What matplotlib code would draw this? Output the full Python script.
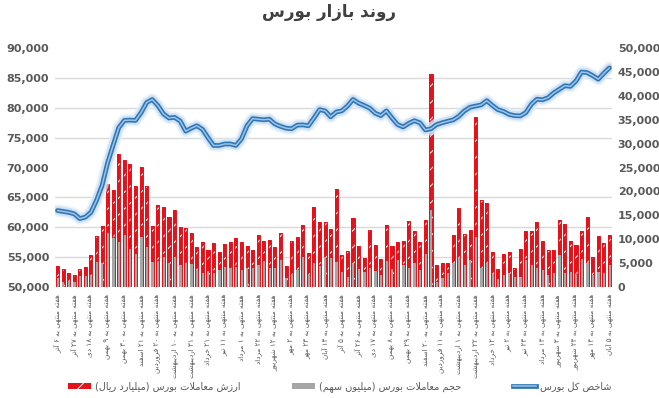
import re

import numpy as np
import matplotlib

matplotlib.use("agg")

import matplotlib.pyplot as plt
import matplotlib.patheffects as pe
from matplotlib.patches import Patch
from matplotlib.lines import Line2D

# weekly values, one per bar (right axis)
trade_value = [
    4390, 3760, 2930, 2510, 3760, 4180, 6690, 10660, 12750, 21600,
    20270, 27940, 26540, 25700, 21100, 25080, 21100, 12750, 17140, 16720,
    14630, 16090, 12540, 12330, 11290, 8360, 9405, 7730, 9200, 7315,
    8990, 9405, 10240, 9405, 8570, 7730, 10870, 9610, 9820, 8360,
    11290, 4390, 9610, 10450, 12960, 7100, 16720, 13650, 13650, 12120,
    20420, 6690, 7520, 14420, 8570, 6060, 11910, 8780, 5850, 12960,
    8570, 9405, 9610, 13790, 11700, 9405, 14000, 44600, 4600, 5020,
    5020, 10870, 16510, 11080, 11910, 35500, 18180, 17560, 7315, 3760,
    6900, 7315, 3970, 7940, 11700, 11700, 13590, 9610, 7730, 7730,
    14000, 13170, 9610, 8780, 11700, 14630, 6270, 10660, 9200, 10870,
]
trade_volume = [
    1900, 1000, 1300, 1000, 2200, 2300, 2300, 5300, 5000, 11300,
    10200, 9500, 10900, 8000, 6900, 10500, 8400, 5300, 5500, 6300,
    5000, 6300, 4500, 5000, 4800, 3550, 3000, 3400, 3000, 3550,
    4240, 4000, 4240, 3500, 3900, 3900, 4660, 5500, 4000, 3900,
    5640, 1880, 2720, 3500, 6330, 2720, 4950, 4390, 6330, 6000,
    5290, 3200, 2150, 4800, 3800, 3070, 4000, 3340, 2500, 5500,
    3800, 5640, 4600, 4000, 5000, 3500, 7000, 16090, 1100, 1950,
    2860, 5080, 6000, 4600, 5640, 10500, 4000, 5080, 2720, 1600,
    2510, 3000, 2150, 2150, 5640, 4600, 4000, 3550, 2500, 3000,
    6690, 3000, 3130, 2500, 5850, 5080, 2500, 3130, 3000, 4600,
]
# total index (left axis)
index_total = [
    62800, 62650, 62500, 62250, 61450, 61700, 62500, 64500, 67000, 70800,
    73800, 76700, 77900, 77950, 77900, 79200, 80900, 81400, 80400, 79000,
    78300, 78400, 77800, 76100, 76600, 77000, 76400, 75000, 73700, 73700,
    73950, 73950, 73700, 74800, 77000, 78200, 78100, 78000, 78100, 77300,
    76900, 76600, 76500, 77100, 77150, 77000, 78300, 79700, 79500, 78500,
    79300, 79500, 80300, 81400, 80800, 80400, 79950, 79100, 78700, 79500,
    78300, 77200, 76800, 77400, 77850, 77500, 76300, 76500, 77200, 77500,
    77750, 78000, 78600, 79500, 80100, 80300, 80500, 81200, 80400, 79700,
    79400, 78900, 78700, 78650, 79200, 80600, 81450, 81350, 81700, 82500,
    83100, 83700, 83600, 84500, 86000, 85900, 85400, 84800, 85800, 86700,
]
# every third week is labelled
week_days = ["۶ آذر", "۲۷ آذر", "۱۸ دی", "۹ بهمن", "۳۰ بهمن", "۲۱ اسفند",
             "۲۰ فروردین", "۱۰ اردیبهشت", "۳۱ اردیبهشت", "۲۱ خرداد", "۱۱ تیر",
             "۱ مرداد", "۲۲ مرداد", "۱۲ شهریور", "۲ مهر", "۲۳ مهر", "۱۴ آبان",
             "۵ آذر", "۲۶ آذر", "۱۷ دی", "۸ بهمن", "۲۹ بهمن", "۲۰ اسفند",
             "۱۱ فروردین", "۱ اردیبهشت", "۲۲ اردیبهشت", "۱۲ خرداد", "۲ تیر",
             "۲۳ تیر", "۱۳ مرداد", "۳ شهریور", "۲۴ شهریور", "۱۴ مهر", "۵ آبان"]
title = "روند بازار بورس"
name_value = "ارزش معاملات بورس (میلیارد ریال)"
name_volume = "حجم معاملات بورس (میلیون سهم)"
name_index = "شاخص کل بورس"

# matplotlib has no arabic shaping: map letters to presentation forms
# (isolated, final, initial, medial) and put them in visual order
FORMS = {
    "\u0627": ("\ufe8d", "\ufe8e", None, None),
    "\u0622": ("\ufe81", "\ufe82", None, None),
    "\u0628": ("\ufe8f", "\ufe90", "\ufe91", "\ufe92"),
    "\u062a": ("\ufe95", "\ufe96", "\ufe97", "\ufe98"),
    "\u062c": ("\ufe9d", "\ufe9e", "\ufe9f", "\ufea0"),
    "\u062d": ("\ufea1", "\ufea2", "\ufea3", "\ufea4"),
    "\u062e": ("\ufea5", "\ufea6", "\ufea7", "\ufea8"),
    "\u062f": ("\ufea9", "\ufeaa", None, None),
    "\u0631": ("\ufead", "\ufeae", None, None),
    "\u0632": ("\ufeaf", "\ufeb0", None, None),
    "\u0633": ("\ufeb1", "\ufeb2", "\ufeb3", "\ufeb4"),
    "\u0634": ("\ufeb5", "\ufeb6", "\ufeb7", "\ufeb8"),
    "\u0635": ("\ufeb9", "\ufeba", "\ufebb", "\ufebc"),
    "\u0639": ("\ufec9", "\ufeca", "\ufecb", "\ufecc"),
    "\u0641": ("\ufed1", "\ufed2", "\ufed3", "\ufed4"),
    "\u0644": ("\ufedd", "\ufede", "\ufedf", "\ufee0"),
    "\u0645": ("\ufee1", "\ufee2", "\ufee3", "\ufee4"),
    "\u0646": ("\ufee5", "\ufee6", "\ufee7", "\ufee8"),
    "\u0647": ("\ufee9", "\ufeea", "\ufeeb", "\ufeec"),
    "\u0648": ("\ufeed", "\ufeee", None, None),
    "\u06cc": ("\ufbfc", "\ufbfd", "\ufbfe", "\ufbff"),
    "\u06a9": ("\ufb8e", "\ufb8f", "\ufb90", "\ufb91"),
}


def fa(text):
    out = []
    i = 0
    while i < len(text):
        c = text[i]
        if c not in FORMS:
            out.append(c)
            i += 1
            continue
        prev = text[i - 1] if i > 0 else ""
        jp = prev in FORMS and FORMS[prev][2] is not None
        nxt = text[i + 1] if i + 1 < len(text) else ""
        if c == "\u0644" and nxt == "\u0627":
            out.append("\ufefc" if jp else "\ufefb")
            i += 2
            continue
        jn = FORMS[c][2] is not None and nxt in FORMS
        iso, fin, ini, med = FORMS[c]
        out.append(med if jp and jn else fin if jp else ini if jn else iso)
        i += 1
    s = "".join(out)
    runs = re.findall(r"[0-9\u06f0-\u06f9]+|[^0-9\u06f0-\u06f9]+", s)
    vis = []
    for r in reversed(runs):
        if r[0].isdigit():
            vis.append(r)
        else:
            vis.append(r[::-1].translate(str.maketrans("()", ")(")))
    return "".join(vis)


plt.rcParams["font.family"] = ["DejaVu Sans"]
plt.rcParams["hatch.color"] = "white"
plt.rcParams["hatch.linewidth"] = 0.7

red = "#e3121b"
gray = "#a6a6a6"
txt = "#595959"

fig = plt.figure(figsize=(6.59, 3.98), dpi=100)
ax = fig.add_axes([0.083, 0.279, 0.846, 0.6])
ax2 = ax.twinx()
x = np.arange(len(trade_value))

ax.bar(x, trade_value, width=0.55, facecolor=red, hatch="//", linewidth=0, zorder=2)
ax.bar(x, trade_value, width=0.55, fill=False, edgecolor=red, linewidth=0.7, zorder=2)
ax.bar(x + 0.05, trade_volume, width=0.4, color=gray, linewidth=0, zorder=3)
ax.set_ylim(0, 50000)
ax.set_xlim(-0.5, len(x) - 0.5)
ax.set_yticks(np.arange(0, 50001, 5000))
ax.set_yticks(np.linspace(0, 50000, 9), minor=True)
ax.grid(which="minor", axis="y", color="#d9d9d9", linewidth=1)
ax.set_axisbelow(True)
ax.yaxis.tick_right()
ax.tick_params(axis="y", which="both", length=0, pad=4)
ax.set_yticklabels([f"{v:,}" for v in range(0, 50001, 5000)],
                   fontsize=8, fontweight="bold", color=txt)
ax.set_xticks(x[::3])
ax.set_xticklabels([fa("هفته منتهی به " + d) for d in week_days],
                   rotation=90, fontsize=5.2, color=txt, va="top", ha="center")
ax.tick_params(axis="x", length=0, pad=5)

ax2.yaxis.tick_left()
glow = [pe.Stroke(linewidth=9, foreground="#e4eff9", alpha=0.7),
        pe.Stroke(linewidth=6.5, foreground="#c6ddf1", alpha=0.8),
        pe.Stroke(linewidth=3.4, foreground="#2e75b6"),
        pe.Normal()]
ax2.plot(x, index_total, color="#9dc3e6", linewidth=1.1, path_effects=glow,
         solid_capstyle="round")
ax2.set_ylim(50000, 90000)
ax2.set_yticks(np.arange(50000, 90001, 5000))
ax2.set_yticklabels([f"{v:,}" for v in range(50000, 90001, 5000)],
                    fontsize=8, fontweight="bold", color=txt)
ax2.tick_params(axis="y", length=0, pad=4)

for a in (ax, ax2):
    for sp in a.spines.values():
        sp.set_visible(False)

fig.text(0.5, 0.97, fa(title), ha="center", va="center", fontsize=12,
         fontweight="bold", color="#404040")

handles = [
    Patch(facecolor=red, hatch="//", linewidth=0),
    Patch(facecolor=gray, linewidth=0),
    Line2D([], [], color="#9dc3e6", linewidth=1.1,
           path_effects=[pe.Stroke(linewidth=3.4, foreground="#2e75b6"), pe.Normal()]),
]
fig.legend(handles, [fa(name_value), fa(name_volume), fa(name_index)],
           loc="center left", bbox_to_anchor=(0.103, 0.028), ncol=3, frameon=False,
           fontsize=7, labelcolor=txt, handlelength=2.4, handleheight=0.5,
           handletextpad=0.4, columnspacing=5.3, borderpad=0, borderaxespad=0)

fig.savefig("out.png", dpi=100)
